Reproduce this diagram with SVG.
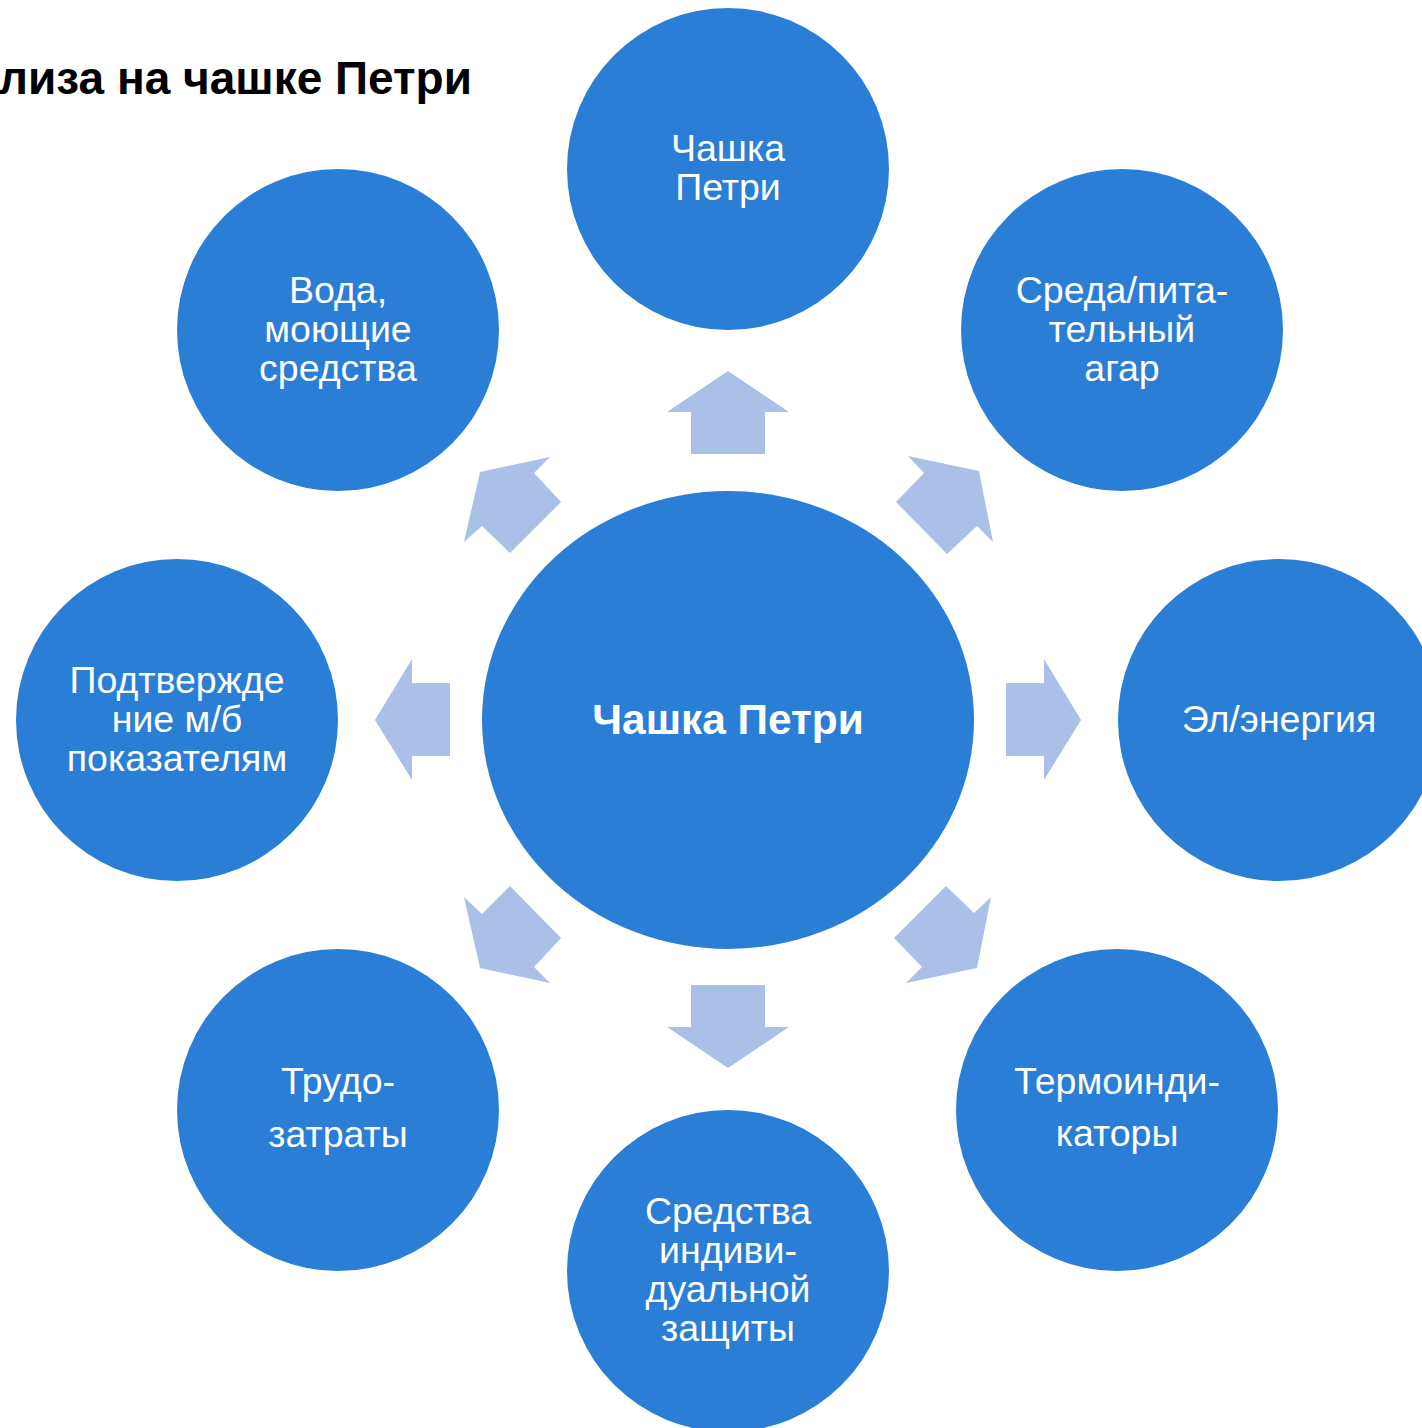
<svg xmlns="http://www.w3.org/2000/svg" width="1422" height="1428" viewBox="0 0 1422 1428">
<style>
.c{fill:#2A7ED5}
.a{fill:#ABC0E6}
.t{font-family:"Liberation Sans",Arial,sans-serif;font-size:37.5px;fill:#fff;text-anchor:middle}
.b{font-family:"Liberation Sans",Arial,sans-serif;font-size:42.4px;font-weight:bold;fill:#fff;text-anchor:middle}
.h{font-family:"Liberation Sans",Arial,sans-serif;font-size:46px;font-weight:bold;fill:#000;text-anchor:end}
</style>
<rect width="1422" height="1428" fill="#fff"/>
<text class="h" x="472" y="94">лиза на чашке Петри</text>
<g id="connectors">
<polygon class="a" points="728,371 789,412 765,412 765,454 691,454 691,412 667,412"/>
<polygon class="a" points="728,1068 789,1027 765,1027 765,985 691,985 691,1027 667,1027"/>
<polygon class="a" points="375,720 412,659 412,683 450,683 450,756 412,756 412,780"/>
<polygon class="a" points="1081,720 1044,659 1044,683 1006,683 1006,756 1044,756 1044,780"/>
<polygon class="a" points="480,472 550,457 534,473 561,502 510,553 482,526 464,542"/>
<polygon class="a" points="979,471 908,456 924,473 896,502 947,554 977,526 993,542"/>
<polygon class="a" points="480,968 550,983 534,967 561,938 510,886 482,914 464,897"/>
<polygon class="a" points="977,968 906,983 922,967 894,938 946,886 974,913 991,897"/>
</g>
<g id="center">
<ellipse class="c" cx="728" cy="720" rx="246" ry="229"/>
<text class="b" x="728" y="734">Чашка Петри</text>
</g>
<g id="n-top">
<circle class="c" cx="728" cy="169" r="161"/>
<text class="t" x="728" y="161">Чашка</text>
<text class="t" x="728" y="200">Петри</text>
</g>
<g id="n-upper-right">
<circle class="c" cx="1122" cy="330" r="161"/>
<text class="t" x="1122" y="303">Среда/пита-</text>
<text class="t" x="1122" y="342">тельный</text>
<text class="t" x="1122" y="381">агар</text>
</g>
<g id="n-right">
<circle class="c" cx="1279" cy="720" r="161"/>
<text class="t" x="1279" y="732">Эл/энергия</text>
</g>
<g id="n-lower-right">
<circle class="c" cx="1117" cy="1110" r="161"/>
<text class="t" x="1117" y="1094">Термоинди-</text>
<text class="t" x="1117" y="1146">каторы</text>
</g>
<g id="n-bottom">
<circle class="c" cx="728" cy="1271" r="161"/>
<text class="t" x="728" y="1224">Средства</text>
<text class="t" x="728" y="1263">индиви-</text>
<text class="t" x="728" y="1302">дуальной</text>
<text class="t" x="728" y="1341">защиты</text>
</g>
<g id="n-lower-left">
<circle class="c" cx="338" cy="1110" r="161"/>
<text class="t" x="338" y="1094">Трудо-</text>
<text class="t" x="338" y="1147">затраты</text>
</g>
<g id="n-left">
<circle class="c" cx="177" cy="720" r="161"/>
<text class="t" x="177" y="693">Подтвержде</text>
<text class="t" x="177" y="732">ние м/б</text>
<text class="t" x="177" y="771">показателям</text>
</g>
<g id="n-upper-left">
<circle class="c" cx="338" cy="330" r="161"/>
<text class="t" x="338" y="303">Вода,</text>
<text class="t" x="338" y="342">моющие</text>
<text class="t" x="338" y="381">средства</text>
</g>
</svg>
